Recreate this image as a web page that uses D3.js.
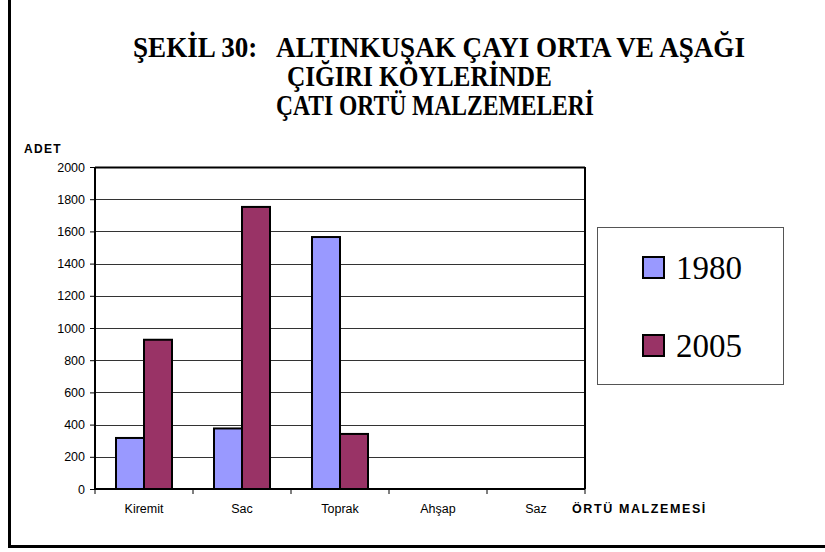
<!DOCTYPE html>
<html>
<head>
<meta charset="utf-8">
<script src="https://cdn.jsdelivr.net/npm/d3@7"></script>
<style>
  body { margin: 0; background: #fff; }
  svg { display: block; }
</style>
</head>
<body>
<div id="chart"></div>
<script>
// data
var categories = ["Kiremit", "Sac", "Toprak", "Ahşap", "Saz"];
var years = ["1980", "2005"];
var values1980 = [317, 376, 1565, 0, 0];
var values2005 = [927, 1752, 342, 0, 0];
var yTicks = [0, 200, 400, 600, 800, 1000, 1200, 1400, 1600, 1800, 2000];
var titleLines = [
  "ŞEKİL 30:   ALTINKUŞAK ÇAYI ORTA VE AŞAĞI",
  "ÇIĞIRI KÖYLERİNDE",
  "ÇATI ORTÜ MALZEMELERİ"
];

// title placement (condensed Times look)
var titleLayout = [
  { x: 133, y: 57, w: 612 },
  { x: 287, y: 86, w: 265 },
  { x: 276, y: 115, w: 318 }
];

var color = d3.scaleOrdinal().domain(years).range(["#9999FF", "#993366"]);

var width = 825, height = 552;
var plot = { left: 95, right: 585, top: 167, bottom: 489 };

var svg = d3.select("#chart").append("svg")
  .attr("width", width)
  .attr("height", height);

// outer frame (left + bottom)
svg.append("path")
  .attr("d", "M9.5,0 V546.5 H825")
  .attr("fill", "none")
  .attr("stroke", "#000")
  .attr("stroke-width", 3);

// title
svg.append("g").selectAll("text")
  .data(titleLines)
  .enter().append("text")
  .attr("x", function(d, i) { return titleLayout[i].x; })
  .attr("y", function(d, i) { return titleLayout[i].y; })
  .attr("textLength", function(d, i) { return titleLayout[i].w; })
  .attr("lengthAdjust", "spacingAndGlyphs")
  .style("white-space", "pre")
  .style("font-family", "'Liberation Serif', 'Times New Roman', serif")
  .style("font-weight", "bold")
  .style("font-size", "29px")
  .text(function(d) { return d; });

var x0 = d3.scaleBand().domain(categories).range([plot.left, plot.right]).padding(0);
var x1 = d3.scaleBand().domain(years).range([21, x0.bandwidth() - 21]).padding(0);
var y = d3.scaleLinear().domain([0, 2000]).range([plot.bottom, plot.top]);

// gridlines
svg.append("g").selectAll("line")
  .data(yTicks.filter(function(d) { return d > 0; }))
  .enter().append("line")
  .attr("x1", plot.left)
  .attr("x2", plot.right)
  .attr("y1", function(d) { return Math.round(y(d)) + 0.5; })
  .attr("y2", function(d) { return Math.round(y(d)) + 0.5; })
  .attr("stroke", "#333")
  .attr("stroke-width", 1);

// plot border top and right
svg.append("line")
  .attr("x1", plot.right).attr("x2", plot.right)
  .attr("y1", plot.top).attr("y2", plot.bottom)
  .attr("stroke", "#000").attr("stroke-width", 2);
svg.append("line")
  .attr("x1", plot.left).attr("x2", plot.right)
  .attr("y1", plot.top + 0.5).attr("y2", plot.top + 0.5)
  .attr("stroke", "#000").attr("stroke-width", 2);

// bars
var rows = categories.map(function(c, i) {
  return { cat: c, vals: [{ year: "1980", v: values1980[i] }, { year: "2005", v: values2005[i] }] };
});

var groups = svg.append("g").selectAll("g")
  .data(rows)
  .enter().append("g")
  .attr("transform", function(d) { return "translate(" + x0(d.cat) + ",0)"; });

groups.selectAll("rect")
  .data(function(d) { return d.vals.filter(function(v) { return v.v > 0; }); })
  .enter().append("rect")
  .attr("x", function(d) { return x1(d.year); })
  .attr("y", function(d) { return y(d.v); })
  .attr("width", x1.bandwidth())
  .attr("height", function(d) { return y(0) - y(d.v); })
  .attr("fill", function(d) { return color(d.year); })
  .attr("stroke", "#000")
  .attr("stroke-width", 2);

// y axis
var yAxis = svg.append("g")
  .attr("transform", "translate(" + plot.left + ",0)")
  .call(d3.axisLeft(y).tickValues(yTicks).tickSize(5).tickPadding(5).tickFormat(d3.format("d")));
yAxis.select(".domain").attr("stroke", "#000").attr("stroke-width", 2).attr("d", "M0," + plot.top + "V" + plot.bottom);
yAxis.selectAll("text")
  .style("font-family", "'Liberation Sans', Arial, sans-serif")
  .style("font-size", "12.5px")
  .attr("fill", "#000");

// x axis
var xAxis = svg.append("g")
  .attr("transform", "translate(0," + plot.bottom + ")")
  .call(d3.axisBottom(x0).tickSize(0).tickPadding(15));
xAxis.select(".domain").attr("stroke", "#000").attr("stroke-width", 2).attr("d", "M" + plot.left + ",0H" + plot.right);
xAxis.selectAll("text")
  .style("font-family", "'Liberation Sans', Arial, sans-serif")
  .style("font-size", "12.5px")
  .attr("fill", "#000");
xAxis.selectAll(".sep")
  .data(categories.concat(["end"]))
  .enter().append("line")
  .attr("class", "sep")
  .attr("x1", function(d, i) { return plot.left + i * x0.bandwidth(); })
  .attr("x2", function(d, i) { return plot.left + i * x0.bandwidth(); })
  .attr("y1", 0).attr("y2", 5)
  .attr("stroke", "#000");

// axis titles
svg.append("text")
  .attr("x", 24).attr("y", 153)
  .style("font-family", "'Liberation Sans', Arial, sans-serif")
  .style("font-weight", "bold")
  .style("font-size", "12px")
  .style("letter-spacing", "1.3px")
  .text("ADET");
svg.append("text")
  .attr("x", 572).attr("y", 513)
  .style("font-family", "'Liberation Sans', Arial, sans-serif")
  .style("font-weight", "bold")
  .style("font-size", "12.5px")
  .style("letter-spacing", "1.6px")
  .text("ÖRTÜ MALZEMESİ");

// legend
var legend = svg.append("g");
legend.append("rect")
  .attr("x", 597.5).attr("y", 227.5)
  .attr("width", 186).attr("height", 157)
  .attr("fill", "#fff")
  .attr("stroke", "#555")
  .attr("stroke-width", 1);
var items = legend.selectAll("g.item")
  .data(years)
  .enter().append("g")
  .attr("class", "item")
  .attr("transform", function(d, i) { return "translate(643," + (257 + i * 78) + ")"; });
items.append("rect")
  .attr("width", 21).attr("height", 21)
  .attr("fill", function(d) { return color(d); })
  .attr("stroke", "#000")
  .attr("stroke-width", 2);
items.append("text")
  .attr("x", 33).attr("y", 22)
  .style("font-family", "'Liberation Serif', 'Times New Roman', serif")
  .style("font-size", "33px")
  .text(function(d) { return d; });
</script>
</body>
</html>
